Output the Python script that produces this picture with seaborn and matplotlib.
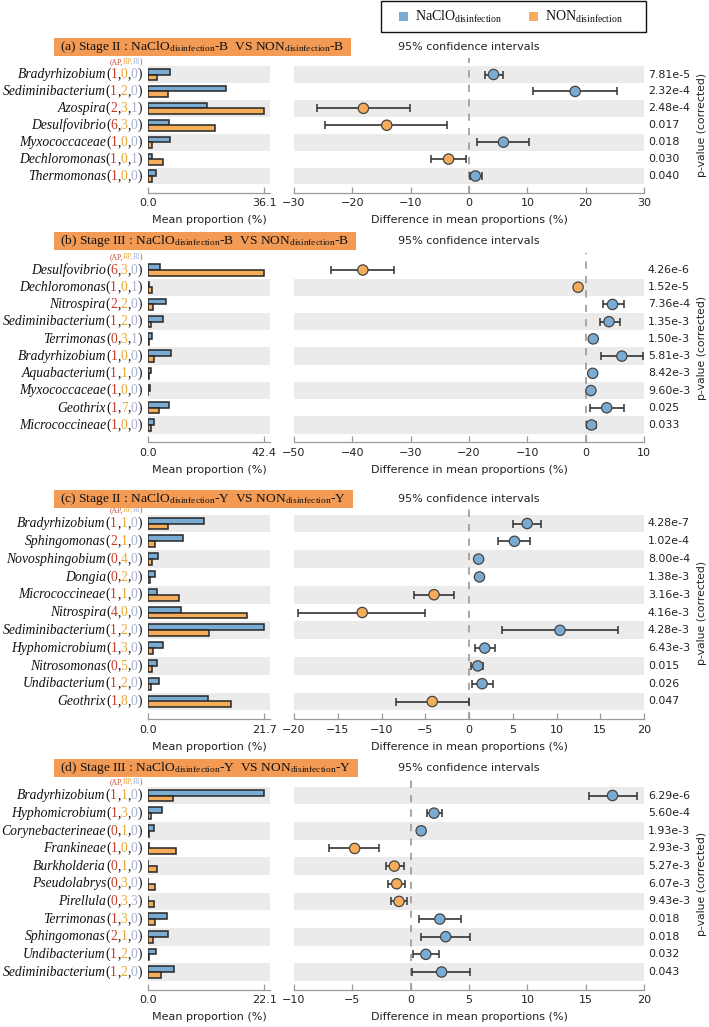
import numpy as np
import pandas as pd
import matplotlib
matplotlib.use("Agg")
import matplotlib.pyplot as plt
import matplotlib.transforms as mtransforms
from matplotlib.patches import Rectangle
import seaborn as sns

# -------------------------------
# Data
# -------------------------------

# (a) Stage II, B
a_taxa = ["Bradyrhizobium", "Sediminibacterium", "Azospira", "Desulfovibrio",
          "Myxococcaceae", "Dechloromonas", "Thermomonas"]
a_counts = [(1, 0, 0), (1, 2, 0), (2, 3, 1), (6, 3, 0), (1, 0, 0), (1, 0, 1), (1, 0, 0)]
a_naclo = [6.9, 24.3, 18.3, 6.5, 6.9, 1.2, 2.4]
a_non = [2.7, 6.3, 36.1, 20.7, 1.1, 4.8, 1.1]
a_diff = [4.2, 18.2, -18.1, -14.1, 5.9, -3.5, 1.1]
a_lo = [2.7, 10.9, -26.0, -24.7, 1.3, -6.5, 0.2]
a_hi = [5.8, 25.4, -10.1, -3.7, 10.3, -0.5, 2.2]
a_pval = ["7.81e-5", "2.32e-4", "2.48e-4", "0.017", "0.018", "0.030", "0.040"]

# (b) Stage III, B
b_taxa = ["Desulfovibrio", "Dechloromonas", "Nitrospira", "Sediminibacterium", "Terrimonas",
          "Bradyrhizobium", "Aquabacterium", "Myxococcaceae", "Geothrix", "Micrococcineae"]
b_counts = [(6, 3, 0), (1, 0, 1), (2, 2, 0), (1, 2, 0), (0, 3, 1),
            (1, 0, 0), (1, 1, 0), (1, 0, 0), (1, 7, 0), (1, 0, 0)]
b_naclo = [4.3, 0.3, 6.5, 5.5, 1.4, 8.3, 1.2, 0.9, 7.6, 2.1]
b_non = [42.4, 1.6, 1.8, 1.2, 0.2, 2.1, 0.2, 0.1, 3.9, 1.2]
b_diff = [-38.2, -1.3, 4.6, 4.0, 1.3, 6.2, 1.2, 0.9, 3.6, 1.0]
b_lo = [-43.7, -1.6, 2.9, 2.5, 1.0, 2.6, 0.7, 0.4, 0.7, 0.3]
b_hi = [-32.8, -1.0, 6.5, 5.9, 1.6, 9.8, 1.8, 1.3, 6.5, 1.7]
b_pval = ["4.26e-6", "1.52e-5", "7.36e-4", "1.35e-3", "1.50e-3",
          "5.81e-3", "8.42e-3", "9.60e-3", "0.025", "0.033"]

# (c) Stage II, Y
c_taxa = ["Bradyrhizobium", "Sphingomonas", "Novosphingobium", "Dongia", "Micrococcineae",
          "Nitrospira", "Sediminibacterium", "Hyphomicrobium", "Nitrosomonas",
          "Undibacterium", "Geothrix"]
c_counts = [(1, 1, 0), (2, 1, 0), (0, 4, 0), (0, 2, 0), (1, 1, 0), (4, 0, 0),
            (1, 2, 0), (1, 3, 0), (0, 5, 0), (1, 2, 0), (1, 8, 0)]
c_naclo = [10.4, 6.6, 1.8, 1.4, 1.6, 6.2, 21.7, 2.8, 1.7, 2.1, 11.2]
c_non = [3.8, 1.4, 0.8, 0.3, 5.8, 18.5, 11.4, 1.0, 0.8, 0.6, 15.5]
c_diff = [6.65, 5.2, 1.1, 1.2, -4.0, -12.2, 10.4, 1.8, 1.0, 1.5, -4.2]
c_lo = [5.06, 3.3, 0.7, 0.8, -6.3, -19.5, 3.8, 0.7, 0.2, 0.3, -8.3]
c_hi = [8.26, 7.0, 1.5, 1.6, -1.7, -5.0, 17.0, 3.0, 1.55, 2.7, 0.0]
c_pval = ["4.28e-7", "1.02e-4", "8.00e-4", "1.38e-3", "3.16e-3", "4.16e-3",
          "4.28e-3", "6.43e-3", "0.015", "0.026", "0.047"]

# (d) Stage III, Y
d_taxa = ["Bradyrhizobium", "Hyphomicrobium", "Corynebacterineae", "Frankineae", "Burkholderia",
          "Pseudolabrys", "Pirellula", "Terrimonas", "Sphingomonas", "Undibacterium",
          "Sediminibacterium"]
d_counts = [(1, 1, 0), (1, 3, 0), (0, 1, 0), (1, 0, 0), (0, 1, 0), (0, 3, 0),
            (0, 3, 3), (1, 3, 0), (2, 1, 0), (1, 2, 0), (1, 2, 0)]
d_naclo = [22.1, 2.7, 1.1, 0.2, 0.05, 0.05, 0.05, 3.7, 3.8, 1.5, 5.0]
d_non = [4.8, 0.6, 0.1, 5.3, 1.8, 1.3, 1.2, 1.3, 0.9, 0.1, 2.5]
d_diff = [17.3, 2.0, 0.9, -4.8, -1.4, -1.2, -1.0, 2.5, 3.0, 1.3, 2.65]
d_lo = [15.3, 1.4, 0.7, -7.0, -2.1, -1.9, -1.7, 0.7, 0.9, 0.2, 0.15]
d_hi = [19.4, 2.7, 1.1, -2.7, -0.6, -0.5, -0.35, 4.3, 5.1, 2.4, 5.1]
d_pval = ["6.29e-6", "5.60e-4", "1.93e-3", "2.93e-3", "5.27e-3", "6.07e-3",
          "9.43e-3", "0.018", "0.018", "0.032", "0.043"]

titles = [
    r"(a) Stage II : NaClO$_{\mathrm{disinfection}}$-B  VS NON$_{\mathrm{disinfection}}$-B",
    r"(b) Stage III : NaClO$_{\mathrm{disinfection}}$-B  VS NON$_{\mathrm{disinfection}}$-B",
    r"(c) Stage II : NaClO$_{\mathrm{disinfection}}$-Y  VS NON$_{\mathrm{disinfection}}$-Y",
    r"(d) Stage III : NaClO$_{\mathrm{disinfection}}$-Y  VS NON$_{\mathrm{disinfection}}$-Y",
]
bar_max = [36.1, 42.4, 21.7, 22.1]
diff_lims = [(-30, 30, 10), (-50, 10, 10), (-20, 20, 5), (-10, 20, 5)]

panels = [
    dict(taxa=a_taxa, counts=a_counts, naclo=a_naclo, non=a_non, diff=a_diff, lo=a_lo, hi=a_hi, pval=a_pval),
    dict(taxa=b_taxa, counts=b_counts, naclo=b_naclo, non=b_non, diff=b_diff, lo=b_lo, hi=b_hi, pval=b_pval),
    dict(taxa=c_taxa, counts=c_counts, naclo=c_naclo, non=c_non, diff=c_diff, lo=c_lo, hi=c_hi, pval=c_pval),
    dict(taxa=d_taxa, counts=d_counts, naclo=d_naclo, non=d_non, diff=d_diff, lo=d_lo, hi=d_hi, pval=d_pval),
]

# layout (pixels): first / last row centre, header centre
row_first = [74.5, 270, 523.5, 795.5]
row_last = [176, 425, 701.5, 972]
head_y = [47, 241, 499, 768]

# -------------------------------
# Style
# -------------------------------
sns.set_theme(style="white")
plt.rcParams['font.family'] = ['DejaVu Sans']
plt.rcParams['mathtext.fontset'] = 'custom'
plt.rcParams['mathtext.rm'] = 'Liberation Serif'
plt.rcParams['mathtext.it'] = 'Liberation Serif:italic'

BLUE = '#7aabd3'
ORANGE = '#f5ad5c'
BAND = '#ebebeb'
EDGE = '#262626'
HEAD = '#f39b55'
AP_C = '#c43d2b'
RP_C = '#e8a838'
RI_C = '#a7b2d4'
SERIF = 'Liberation Serif'

W, H = 709, 1027
fig = plt.figure(figsize=(W / 100, H / 100), dpi=100)


def fx(px):
    return px / W


def fy(py):
    return 1 - py / H


def chain_right(ax, y, pieces, xoff, trans):
    # place text pieces right-to-left so the label ends just left of the axes
    prev = None
    for txt, color, kw in reversed(pieces):
        if prev is None:
            prev = ax.annotate(txt, xy=(0, y), xycoords=trans, xytext=(xoff, 0),
                               textcoords='offset points', ha='right', va='center',
                               color=color, annotation_clip=False, **kw)
        else:
            prev = ax.annotate(txt, xy=(0, 0), xycoords=prev, ha='right', va='bottom',
                               color=color, annotation_clip=False, **kw)


head_texts = []
for k, p in enumerate(panels):
    taxa = p['taxa']
    n = len(taxa)
    h = (row_last[k] - row_first[k]) / (n - 1)
    top = row_first[k] - h
    bottom = row_last[k] + h

    axb = fig.add_axes([fx(148), fy(bottom), fx(270) - fx(148), (bottom - top) / H])
    axc = fig.add_axes([fx(294), fy(bottom), fx(644) - fx(294), (bottom - top) / H])

    # ---- mean proportion bars ----
    df = pd.DataFrame({
        'taxon': taxa + taxa,
        'value': p['naclo'] + p['non'],
        'group': ['NaClO'] * n + ['NON'] * n,
    })
    sns.barplot(data=df, x='value', y='taxon', hue='group', order=taxa,
                hue_order=['NaClO', 'NON'], palette=[BLUE, ORANGE], orient='h',
                width=0.66, edgecolor=EDGE, linewidth=1.1, saturation=1,
                ax=axb, legend=False)

    # ---- difference with CI ----
    diff = np.array(p['diff'])
    lo = np.array(p['lo'])
    hi = np.array(p['hi'])
    rows = np.arange(n)
    axc.errorbar(diff, rows, xerr=[diff - lo, hi - diff], fmt='none', ecolor='#333333',
                 elinewidth=1.2, capsize=3, capthick=1.1, zorder=3)
    cdf = pd.DataFrame({'diff': diff, 'row': rows,
                        'grp': np.where(diff > 0, 'NaClO', 'NON')})
    sns.scatterplot(data=cdf, x='diff', y='row', hue='grp', hue_order=['NaClO', 'NON'],
                    palette=[BLUE, ORANGE], s=55, edgecolor='#444444', linewidth=0.9,
                    ax=axc, legend=False, zorder=4)
    axc.axvline(0, color='#a0a0a0', ls=(0, (4, 4)), lw=1.3, zorder=2)

    for ax in (axb, axc):
        for i in range(n):
            if (n - 1 - i) % 2 == 0:
                ax.axhspan(i - 0.5, i + 0.5, color=BAND, lw=0, zorder=0)
        ax.set_ylim(n, -1)
        for s in ('left', 'top', 'right'):
            ax.spines[s].set_visible(False)
        ax.spines['bottom'].set_color('#9a9a9a')
        ax.spines['bottom'].set_linewidth(0.9)
        ax.tick_params(axis='x', bottom=True, direction='in', length=4, width=0.9,
                       color='#9a9a9a', labelsize=8, pad=4, labelcolor='#222222')
        ax.tick_params(axis='y', left=False, labelleft=False)
        ax.set_ylabel('')
        ax.grid(False)

    axb.set_xlim(0, bar_max[k] * 1.05)
    axb.set_xticks([0, bar_max[k]])
    axb.set_xticklabels(['0.0', f"{bar_max[k]:.1f}"])
    axb.set_xlabel('Mean proportion (%)', fontsize=8, labelpad=5, color='#222222')

    lo_x, hi_x, step = diff_lims[k]
    axc.set_xlim(lo_x, hi_x)
    axc.set_xticks(np.arange(lo_x, hi_x + step / 2, step))
    axc.set_xlabel('Difference in mean proportions (%)', fontsize=8, labelpad=5,
                   color='#222222')

    # taxon labels with coloured (AP,RP,RI) counts
    ytrans = axb.get_yaxis_transform()
    for i, (name, (ap, rp, ri)) in enumerate(zip(taxa, p['counts'])):
        fs = 9.8
        pieces = [
            (name, '#111111', dict(fontsize=fs, family=SERIF, style='italic')),
            ('(', '#111111', dict(fontsize=fs, family=SERIF)),
            (str(ap), AP_C, dict(fontsize=fs, family=SERIF)),
            (',', '#111111', dict(fontsize=fs, family=SERIF)),
            (str(rp), RP_C, dict(fontsize=fs, family=SERIF)),
            (',', '#111111', dict(fontsize=fs, family=SERIF)),
            (str(ri), RI_C, dict(fontsize=fs, family=SERIF)),
            (')', '#111111', dict(fontsize=fs, family=SERIF)),
        ]
        chain_right(axb, i, pieces, -4.3, ytrans)
    small = dict(fontsize=5.5, family=SERIF)
    chain_right(axb, -0.75, [('(AP,', AP_C, small), ('RP,', RP_C, small),
                             ('RI', RI_C, small), (')', '#8a3a30', small)], -3.8, ytrans)

    # p-values
    ptrans = mtransforms.blended_transform_factory(axc.transAxes, axc.transData)
    for i, pv in enumerate(p['pval']):
        axc.text(1.011, i, pv, transform=ptrans, ha='left', va='center',
                 fontsize=7.9, color='#222222')
    fig.text(fx(702), fy((top + bottom) / 2), 'p-value (corrected)', rotation=90,
             ha='center', va='center', fontsize=7.8, color='#222222')

    # header and CI caption
    t = fig.text(fx(60), fy(head_y[k]), titles[k], ha='left', va='center',
                 fontsize=9.7, family=SERIF, color='#111111', zorder=5)
    head_texts.append((t, head_y[k]))
    fig.text(fx(469), fy(head_y[k]), '95% confidence intervals', ha='center',
             va='center', fontsize=8, color='#222222')

# header boxes sized to their text
fig.canvas.draw()
for t, yc in head_texts:
    bb = t.get_window_extent()
    x1 = bb.x1 + 7
    fig.patches.append(Rectangle((fx(54), fy(yc + 9)), fx(x1) - fx(54), 18 / H,
                                 transform=fig.transFigure, fc=HEAD, ec='none', zorder=1))

# legend
fig.patches.append(Rectangle((fx(381), fy(32)), fx(646) - fx(381), 31 / H,
                             transform=fig.transFigure, fill=False, ec='#111111', lw=1.0))
for xc, col, lab in [(403, BLUE, r"NaClO$_{\mathrm{disinfection}}$"),
                     (533, ORANGE, r"NON$_{\mathrm{disinfection}}$")]:
    fig.patches.append(Rectangle((fx(xc - 4.5), fy(21)), 9 / W, 9 / H,
                                 transform=fig.transFigure, fc=col, ec='none'))
    fig.text(fx(xc + 12), fy(17), lab, ha='left', va='center', fontsize=10,
             family=SERIF, color='#111111')

fig.savefig('out.png', dpi=100)
